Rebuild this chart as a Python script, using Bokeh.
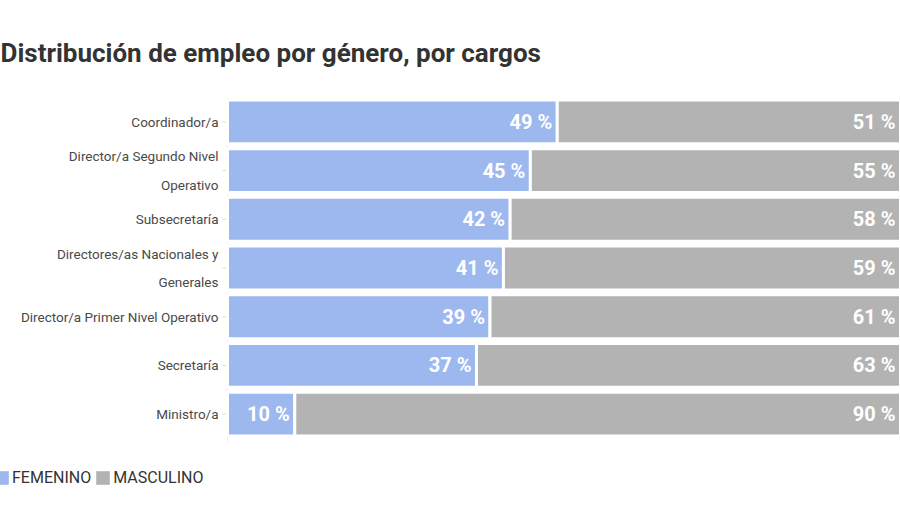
from bokeh.plotting import figure
from bokeh.models import ColumnDataSource, Range1d, Legend, LegendItem
from bokeh.embed import file_html
from bokeh.resources import INLINE
from bokeh.core.properties import value

cargos = [
    "Coordinador/a",
    "Director/a Segundo Nivel\nOperativo",
    "Subsecretaría",
    "Directores/as Nacionales y\nGenerales",
    "Director/a Primer Nivel Operativo",
    "Secretaría",
    "Ministro/a",
]
femenino = [49, 45, 42, 41, 39, 37, 10]
masculino = [51, 55, 58, 59, 61, 63, 90]
series_names = ["FEMENINO", "MASCULINO"]

FEM_COLOR = "#9db8ef"
MAS_COLOR = "#b3b3b3"

n = len(cargos)
src = ColumnDataSource(dict(
    cargo=cargos,
    pos=[n - 1 - i for i in range(n)],
    fem=femenino,
    total=[f + m for f, m in zip(femenino, masculino)],
    zero=[0] * n,
    fem_lbl=[f"{v} %" for v in femenino],
    mas_lbl=[f"{v} %" for v in masculino],
))

# frame spans the whole width; 0 % sits 227 px from the left edge
px_per_unit_x = 673 / 100
px_per_row = 341 / n
frame_h = 403
y_top = n - 0.5
y_bot = y_top - frame_h / px_per_row

p = figure(
    width=900, height=500,
    x_range=Range1d(-227 / px_per_unit_x, 100),
    y_range=Range1d(y_bot, y_top),
    output_backend="svg", toolbar_location=None,
    min_border_left=0, min_border_right=0,
    min_border_top=97, min_border_bottom=0,
    title="Distribución de empleo por género, por cargos",
)
p.outline_line_color = None
p.background_fill_color = "white"
p.border_fill_color = "white"
p.xaxis.visible = False
p.yaxis.visible = False
p.xgrid.grid_line_color = None
p.ygrid.grid_line_color = None

# faint axis line and ticks
p.segment(x0=0, y0=-0.57, x1=0, y1=y_top + 0.07, line_color="#eeeeee", line_width=1)
p.scatter(x="zero", y="pos", source=src, marker="dash", size=10,
          line_color="#dddddd", line_width=1)

# unstroked copies (hidden underneath, used for the legend swatches)
lg_f = p.hbar(y="pos", left="zero", right="fem", height=0.9, source=src,
              fill_color=FEM_COLOR, line_color=None)
lg_m = p.hbar(y="pos", left="fem", right="total", height=0.9, source=src,
              fill_color=MAS_COLOR, line_color=None)

# visible bars with white separators
p.hbar(y="pos", left="zero", right="fem", height=0.9, source=src,
       fill_color=FEM_COLOR, line_color="white", line_width=3)
p.hbar(y="pos", left="fem", right="total", height=0.9, source=src,
       fill_color=MAS_COLOR, line_color="white", line_width=3)

# category labels
p.text(x="zero", y="pos", text="cargo", source=src, x_offset=-9,
       text_align="right", text_baseline="middle", text_color="#4a4a4a",
       text_font=value("Roboto"), text_font_size="13.5px", text_line_height=1.8)

p.text(x="fem", y="pos", text="fem_lbl", source=src, x_offset=-5,
       text_align="right", text_baseline="middle", text_color="white",
       text_font=value("Roboto"), text_font_size="20px", text_font_style="bold")
p.text(x="total", y="pos", text="mas_lbl", source=src, x_offset=-5,
       text_align="right", text_baseline="middle", text_color="white",
       text_font=value("Roboto"), text_font_size="20px", text_font_style="bold")

p.title.text_font = "Roboto"
p.title.text_font_size = "26px"
p.title.text_font_style = "bold"
p.title.text_color = "#333333"
p.title.align = "left"
p.title.standoff = 59

legend = Legend(
    items=[LegendItem(label=series_names[0], renderers=[lg_f]),
           LegendItem(label=series_names[1], renderers=[lg_m])],
    orientation="horizontal",
    location=(-7, 13),
    border_line_color=None, background_fill_alpha=0,
    padding=0, margin=0, spacing=3,
    glyph_width=17, glyph_height=17, label_standoff=2,
    label_text_font="Roboto", label_text_font_size="16px",
    label_text_color="#333333",
)
p.add_layout(legend, "center")

open("out.html", "w").write(file_html(p, INLINE))
